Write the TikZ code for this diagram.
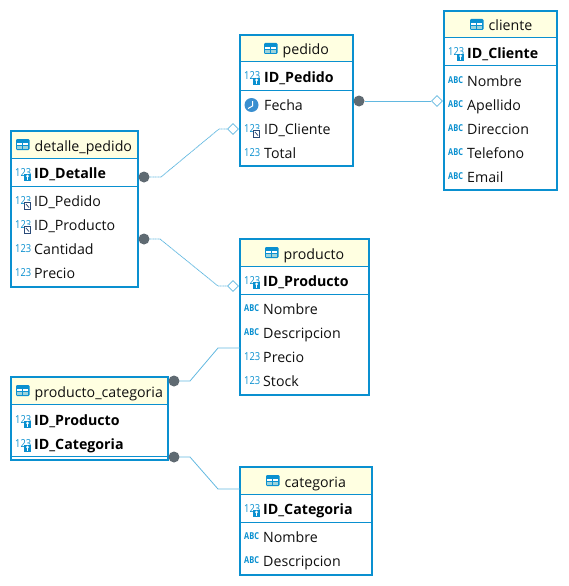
\documentclass[tikz,border=0pt]{standalone}
\usepackage{fontspec}
\setmainfont{Open Sans}
\usetikzlibrary{shapes.geometric}
\definecolor{tblue}{HTML}{0A90D0}
\definecolor{hdr}{HTML}{FFFFE1}
\definecolor{lnk}{HTML}{62B8E0}
\definecolor{dotc}{HTML}{5F6A72}
\definecolor{txt}{HTML}{101010}
\definecolor{badge}{HTML}{2A4A78}
\definecolor{clockc}{HTML}{3A8FD0}
\tikzset{
  x=1pt,y=-1pt,
  tablebox/.style={draw=tblue,line width=2.2pt,fill=white,anchor=north west,inner sep=0pt,outer sep=0pt},
  sepline/.style={draw=tblue,line width=1pt},
  coltext/.style={anchor=base west,inner sep=0pt,font=\fontsize{14.2}{14.2}\selectfont,text=txt},
  keytext/.style={coltext,font=\fontsize{14.2}{14.2}\selectfont\bfseries,text=black},
  titletext/.style={coltext,font=\fontsize{14.2}{14.2}\selectfont},
  dotend/.style={circle,fill=dotc,draw=none,minimum size=11pt,inner sep=0pt},
  diamondend/.style={diamond,draw=lnk,fill=white,line width=.8pt,minimum size=11pt,inner sep=0pt,aspect=1},
  link/.style={draw=lnk,line width=.8pt},
  dotlink/.style={draw=lnk,line width=.8pt,dash pattern=on 1.2pt off .5pt},
  num/.style={anchor=base west,inner sep=0pt,font=\fontsize{11}{11}\selectfont,text=tblue},
  abc/.style={anchor=base west,inner sep=0pt,font=\fontsize{9.5}{9.5}\selectfont\bfseries,text=tblue},
}
% \tbl{name}{x1}{y1}{x2}{y2}{headerline}{sepline}{iconx}{title}
\newcommand{\tbl}[9]{%
  \node[tablebox,minimum width=#4pt-#2pt,minimum height=#5pt-#3pt] (#1) at (#2,#3) {};
  \fill[hdr] (#2+1.1,#3+1.1) rectangle (#4-1.1,#6);
  \draw[sepline] (#2,#6) -- (#4,#6);
  \draw[sepline] (#2,#7) -- (#4,#7);
  \fill[tblue,rounded corners=1.2pt] (#8,#3+8) rectangle (#8+13.5,#3+19);
  \fill[white] (#8+1.2,#3+12) rectangle (#8+6.2,#3+14);
  \fill[white] (#8+7.3,#3+12) rectangle (#8+12.3,#3+14);
  \fill[hdr!60!tblue] (#8+1.2,#3+15) rectangle (#8+6.2,#3+17.8);
  \fill[hdr!60!tblue] (#8+7.3,#3+15) rectangle (#8+12.3,#3+17.8);
  \node[titletext] (#1-title) at (#8+18.5,#3+20) {#9};
}
\newcommand{\keybadge}[2]{%
  \fill[tblue] (#1+10,#2+1) rectangle (#1+17,#2+8);
  \fill[white] (#1+13.5,#2+3) circle (1.5);
  \fill[white] (#1+13,#2+3.5) rectangle (#1+14,#2+7);
}
\newcommand{\fkbadge}[2]{%
  \fill[white] (#1+10,#2) rectangle (#1+17.5,#2+8.5);
  \draw[badge,line width=.9pt] (#1+10.5,#2+1.5) rectangle (#1+16.8,#2+8);
  \draw[badge,line width=.8pt] (#1+12,#2+3) -- (#1+15,#2+6.5);
}
\newcommand{\numicon}[2]{\node[num] at (#1+1,#2+3) {\scalebox{.85}[1]{123}};}
% \rowkey{row-name}{iconx}{textx}{y}{text}
\newcommand{\rowkey}[5]{%
  \numicon{#2}{#4}
  \keybadge{#2}{#4}
  \node[keytext] (#1) at (#3,#4+5.5) {#5};
}
\newcommand{\rowfk}[5]{%
  \numicon{#2}{#4}
  \fkbadge{#2}{#4}
  \node[coltext] (#1) at (#3,#4+5.5) {#5};
}
\newcommand{\rownum}[5]{%
  \numicon{#2}{#4}
  \node[coltext] (#1) at (#3,#4+5.5) {#5};
}
\newcommand{\rowabc}[5]{%
  \node[abc] at (#2+1,#4+2.5) {\scalebox{.78}[1]{ABC}};
  \node[coltext] (#1) at (#3,#4+5.5) {#5};
}
\newcommand{\rowtime}[5]{%
  \fill[clockc] (#2+8.5,#4) circle (7);
  \draw[white,line width=1pt] (#2+9.5,#4-4) -- (#2+9.5,#4+1) -- (#2+5,#4+3.5);
  \node[coltext] (#1) at (#3,#4+5.5) {#5};
}
\begin{document}
\begin{tikzpicture}
\useasboundingbox (0,0) rectangle (568,586);
% pedido
\tbl{pedido}{240}{35}{353}{166}{62}{90}{264}{pedido}
\rowkey{p1}{243}{264}{77}{ID\_Pedido}
\rowtime{p2}{243}{264}{105}{Fecha}
\rowfk{p3}{243}{264}{129}{ID\_Cliente}
\rownum{p4}{243}{264}{153}{Total}
% cliente
\tbl{cliente}{444}{11}{557}{190}{38}{66}{470}{cliente}
\rowkey{c1}{447}{467}{53}{ID\_Cliente}
\rowabc{c2}{447}{467}{81}{Nombre}
\rowabc{c3}{447}{467}{105}{Apellido}
\rowabc{c4}{447}{467}{129}{Direccion}
\rowabc{c5}{447}{467}{153}{Telefono}
\rowabc{c6}{447}{467}{177}{Email}
% detalle_pedido
\tbl{detalle}{11}{131}{138}{287}{158}{186}{16}{detalle\_pedido}
\rowkey{d1}{14}{34}{173}{ID\_Detalle}
\rowfk{d2}{14}{34}{201}{ID\_Pedido}
\rowfk{d3}{14}{34}{225}{ID\_Producto}
\rownum{d4}{14}{34}{249}{Cantidad}
\rownum{d5}{14}{34}{273}{Precio}
% producto
\tbl{producto}{240}{239}{369}{395}{266}{294}{265}{producto}
\rowkey{r1}{243}{263}{281}{ID\_Producto}
\rowabc{r2}{243}{263}{309}{Nombre}
\rowabc{r3}{243}{263}{333}{Descripcion}
\rownum{r4}{243}{263}{357}{Precio}
\rownum{r5}{243}{263}{381}{Stock}
% producto_categoria
\tbl{prodcat}{11}{377}{168}{460}{404}{456}{16}{producto\_categoria}
\rowkey{g1}{14}{34}{420}{ID\_Producto}
\rowkey{g2}{14}{34}{444}{ID\_Categoria}
% categoria
\tbl{categoria}{240}{467}{372}{575}{494}{522}{266}{categoria}
\rowkey{k1}{243}{263}{509}{ID\_Categoria}
\rowabc{k2}{243}{263}{537}{Nombre}
\rowabc{k3}{243}{263}{561}{Descripcion}
% connector ends
\node[dotend] (e1) at (359,101) {};
\node[diamondend] (f1) at (437,101) {};
\node[dotend] (e2) at (144,177) {};
\node[diamondend] (f2) at (233,129) {};
\node[dotend] (e3) at (144,239) {};
\node[diamondend] (f3) at (233,286) {};
\node[dotend] (e4) at (174,381) {};
\coordinate (f4) at (240,348);
\node[dotend] (e5) at (174,457) {};
\coordinate (f5) at (240,489);
% connectors
\draw[link] (e1) -- (f1);
\draw[dotlink] (e2) -- (161,177) -- (219,129) -- (f2);
\draw[dotlink] (e3) -- (160,239) -- (218,286) -- (f3);
\draw[link] (e4) -- (190,381) -- (218,348) -- (f4);
\draw[link] (e5) -- (190,457) -- (218,489) -- (f5);
\end{tikzpicture}
\end{document}
